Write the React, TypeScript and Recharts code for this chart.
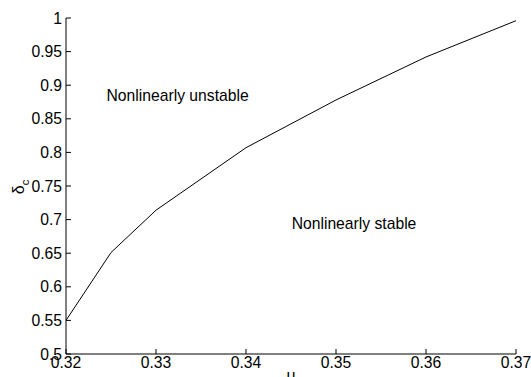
import { LineChart, Line, XAxis, YAxis, ReferenceDot } from 'recharts'

const muValues = [0.32, 0.325, 0.33, 0.34, 0.35, 0.36, 0.37]
const deltaC = [0.55, 0.651, 0.714, 0.807, 0.878, 0.942, 0.996]
const xTicks = [0.32, 0.33, 0.34, 0.35, 0.36, 0.37]
const yTicks = [0.5, 0.55, 0.6, 0.65, 0.7, 0.75, 0.8, 0.85, 0.9, 0.95, 1]

const data = muValues.map((mu, i) => ({ mu, delta: deltaC[i] }))

const FONT = '"Liberation Sans", Arial, Helvetica, sans-serif'
const FS = 15.7

const renderXTick = (props: any) => {
  const { x, y, payload } = props
  return (
    <g>
      <line x1={x} y1={y} x2={x} y2={y - 5} stroke="#000" strokeWidth={1} />
      <text x={x} y={y + 14} textAnchor="middle" fontSize={FS} fontFamily={FONT} fill="#000">
        {String(payload.value)}
      </text>
    </g>
  )
}

const renderYTick = (props: any) => {
  const { x, y, payload } = props
  return (
    <g>
      <line x1={x} y1={y} x2={x + 5} y2={y} stroke="#000" strokeWidth={1} />
      <text x={x - 4} y={y} dy="0.36em" textAnchor="end" fontSize={FS} fontFamily={FONT} fill="#000">
        {String(payload.value)}
      </text>
    </g>
  )
}

const YLabel = () => (
  <text
    transform="translate(24,187) rotate(-90)"
    textAnchor="middle"
    fontSize={FS + 0.5}
    fontFamily={FONT}
    fill="#000"
  >
    δ<tspan dy={5} fontSize={11}>c</tspan>
  </text>
)

const XLabel = () => (
  <text x={291} y={381} textAnchor="middle" fontSize={FS} fontFamily={FONT} fill="#000">
    μ
  </text>
)

export default function App() {
  return (
    <div style={{ position: 'absolute', left: 0, top: 0, background: '#fff' }}>
      <LineChart
        width={531}
        height={377}
        data={data}
        margin={{ top: 18, right: 15, left: 16, bottom: 3 }}
      >
        <XAxis
          dataKey="mu"
          type="number"
          domain={[0.32, 0.37]}
          ticks={xTicks}
          tickSize={0}
          tickMargin={0}
          tickLine={false}
          axisLine={{ stroke: '#000' }}
          tick={renderXTick}
          height={20}
          interval={0}
          allowDataOverflow
          label={{ content: () => <XLabel /> }}
        />
        <YAxis
          type="number"
          domain={[0.5, 1]}
          ticks={yTicks}
          tickSize={0}
          tickMargin={0}
          tickLine={false}
          axisLine={{ stroke: '#000' }}
          tick={renderYTick}
          width={50}
          interval={0}
          allowDataOverflow
          label={{ content: () => <YLabel /> }}
        />
        <ReferenceDot
          x={0.3324}
          y={0.8854}
          r={0}
          fill="none"
          stroke="none"
          label={{ value: 'Nonlinearly unstable', position: 'center', fontSize: FS, fontFamily: FONT, fill: '#000' }}
        />
        <ReferenceDot
          x={0.352}
          y={0.6946}
          r={0}
          fill="none"
          stroke="none"
          label={{ value: 'Nonlinearly stable', position: 'center', fontSize: FS, fontFamily: FONT, fill: '#000' }}
        />
        <Line
          type="linear"
          dataKey="delta"
          stroke="#000"
          strokeWidth={1}
          dot={false}
          activeDot={false}
          isAnimationActive={false}
        />
      </LineChart>
    </div>
  )
}
